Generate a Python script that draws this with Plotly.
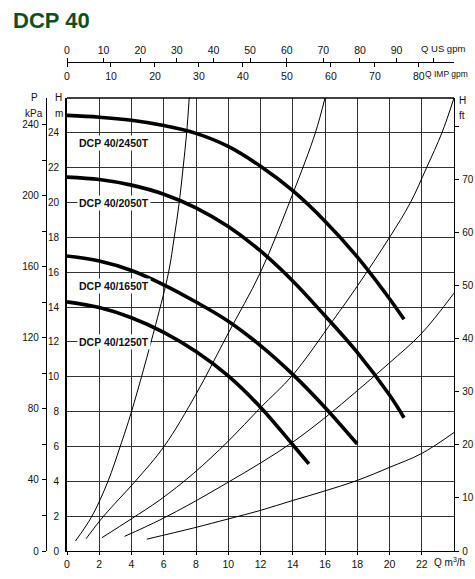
import plotly.graph_objects as go

# ---------------- data ----------------
# Pump curves: Q in m3/h, H in m
Q_2450 = [0, 2, 4, 6, 8, 10, 12, 14, 16, 18, 20, 20.9]
H_2450 = [25.0, 24.9, 24.72, 24.42, 23.97, 23.22, 22.08, 20.68, 18.93, 16.88, 14.48, 13.3]
Q_2050 = [0, 2, 4, 6, 8, 10, 12, 14, 16, 18, 20, 20.9]
H_2050 = [21.46, 21.32, 21.0, 20.48, 19.7, 18.62, 17.22, 15.5, 13.5, 11.4, 8.95, 7.65]
Q_1650 = [0, 2, 4, 6, 8, 10, 12, 14, 16, 18]
H_1650 = [16.93, 16.64, 16.1, 15.28, 14.29, 13.19, 11.79, 10.14, 8.24, 6.14]
Q_1250 = [0, 2, 4, 6, 8, 10, 12, 14, 15]
H_1250 = [14.3, 13.97, 13.39, 12.55, 11.45, 10.05, 8.25, 6.1, 5.0]

pump_names = ["DCP 40/2450T", "DCP 40/2050T", "DCP 40/1650T", "DCP 40/1250T"]
label_H = [23.4, 20.0, 15.2, 12.0]

# System (thin) curves
QA = [0.52, 1.55, 2.54, 3.3, 4.0, 5.5, 6.3, 6.65, 6.96, 7.2, 7.42, 7.58]
HA = [0.57, 2, 4, 6, 8, 13, 16, 18, 20, 22, 24, 26]
QB = [1.18, 2.27, 4.23, 6.02, 8, 10, 12, 14, 15.4, 16]
HB = [0.7, 2, 4, 6, 9, 12.5, 16, 20.5, 24, 26]
QC = [2.16, 4, 5.76, 7.84, 10, 12, 14, 16.5, 18, 20, 21.3, 22.3, 23.25, 24]
HC = [0.76, 1.85, 2.93, 4.45, 6.3, 8.23, 10.1, 13.24, 15.2, 18, 20, 22, 24, 26]
QD = [3.57, 5.76, 7.84, 10, 12, 14, 16, 18, 20, 22, 24]
HD = [0.84, 1.78, 2.8, 3.95, 5.05, 6.25, 7.65, 9.2, 10.8, 12.5, 14.8]
QE = [4.95, 7.84, 10, 12, 14, 16, 18, 20, 22, 24]
HE = [0.68, 1.32, 1.84, 2.33, 2.9, 3.45, 4.05, 4.8, 5.6, 6.8]

# Axis ticks
q_ticks = list(range(0, 23, 2))
h_ticks = list(range(0, 25, 2))
ft_ticks = list(range(0, 81, 10))
ft_text = [str(v) for v in range(0, 71, 10)] + [""]
kpa_ticks = list(range(0, 241, 20))
kpa_text = [str(v) if v % 40 == 0 else "" for v in kpa_ticks]
us_ticks = list(range(0, 101, 10))
us_text = [str(v) for v in range(0, 91, 10)] + [""]
imp_ticks = list(range(0, 81, 10))
imp_text = [str(v) for v in imp_ticks]

# ---------------- figure ----------------
W, Hpx = 475, 579
ML, MR, MT, MB = 46, 21, 40, 28
plot_w = W - ML - MR
plot_h = Hpx - MT - MB
x_start = (67 - ML) / plot_w
y_top = (551 - 98) / plot_h
gpm_pos = (551 - 62) / plot_h

Q_MAX, H_MAX = 24, 26

FONT = "Liberation Sans Narrow, Arial Narrow, Liberation Sans, Arial, sans-serif"

fig = go.Figure()

for q, h in [(QA, HA), (QB, HB), (QC, HC), (QD, HD), (QE, HE)]:
    fig.add_trace(go.Scatter(x=q, y=h, mode="lines",
                             line=dict(color="black", width=1, shape="spline", smoothing=1.0),
                             showlegend=False, hoverinfo="skip"))

for q, h in [(Q_2450, H_2450), (Q_2050, H_2050), (Q_1650, H_1650), (Q_1250, H_1250)]:
    fig.add_trace(go.Scatter(x=q, y=h, mode="lines",
                             line=dict(color="black", width=3.6, shape="spline", smoothing=1.0),
                             showlegend=False, hoverinfo="skip"))

# Invisible traces to activate the extra axes
for xa, ya in [("x", "y2"), ("x", "y3"), ("x2", "y"), ("x3", "y")]:
    fig.add_trace(go.Scatter(x=[0], y=[0], xaxis=xa, yaxis=ya, mode="markers",
                             marker=dict(opacity=0), showlegend=False, hoverinfo="skip"))

tickfont = dict(family=FONT, size=10, color="#111")
grid = "#333333"

fig.update_layout(
    width=W, height=Hpx,
    margin=dict(l=ML, r=MR, t=MT, b=MB, pad=0, autoexpand=False),
    paper_bgcolor="white", plot_bgcolor="white",
    font=dict(family=FONT, color="#111"),
    xaxis=dict(domain=[x_start, 1], range=[0, Q_MAX], tickvals=q_ticks,
               showgrid=True, gridcolor=grid, gridwidth=1.3,
               showline=True, linecolor="black", linewidth=1.3, mirror=False,
               ticks="outside", ticklen=3, tickcolor="black", automargin=False,
               tickfont=dict(family=FONT, size=10.5, color="#111"), zeroline=False),
    yaxis=dict(domain=[0, y_top], range=[0, H_MAX], tickvals=h_ticks,
               showgrid=True, gridcolor=grid, gridwidth=1.3,
               showline=True, linecolor="black", linewidth=2, mirror=False,
               ticks="", tickfont=dict(family=FONT, size=10, color="#111"),
               ticklabelstandoff=4, zeroline=False, automargin=False),
    yaxis2=dict(domain=[0, y_top], overlaying="y", side="right", anchor="x",
                range=[0, H_MAX / 0.3048], tickvals=ft_ticks, ticktext=ft_text,
                ticks="outside", ticklen=4, tickcolor="black", automargin=False,
                showline=True, linecolor="black", linewidth=1.3, showgrid=False,
                zeroline=False, tickfont=tickfont, ticklabelstandoff=1),
    yaxis3=dict(domain=[0, y_top], overlaying="y", side="left", anchor="free", position=0,
                range=[0, H_MAX * 9.80665], tickvals=kpa_ticks, ticktext=kpa_text,
                ticks="outside", ticklen=4, tickcolor="black", automargin=False,
                showline=True, linecolor="black", linewidth=1.3, showgrid=False,
                zeroline=False, tickfont=tickfont, ticklabelstandoff=1),
    xaxis2=dict(domain=[x_start, 1], overlaying="x", side="top", anchor="free",
                position=gpm_pos, range=[0, Q_MAX / 0.22712], automargin=False,
                tickvals=us_ticks, ticktext=us_text, ticks="outside", ticklen=4,
                tickcolor="black", showline=True, linecolor="black", linewidth=1.3,
                showgrid=False, zeroline=False,
                tickfont=dict(family=FONT, size=10.5, color="#111")),
    xaxis3=dict(domain=[x_start, 1], overlaying="x", side="bottom", anchor="free",
                position=gpm_pos, range=[0, Q_MAX / 0.27277], automargin=False,
                tickvals=imp_ticks, ticktext=imp_text, ticks="outside", ticklen=4,
                tickcolor="black", showline=False, showgrid=False, zeroline=False,
                tickfont=dict(family=FONT, size=10.5, color="#111")),
)

# Top border of the plot
fig.add_shape(type="line", xref="x domain", yref="y domain", x0=0, x1=1, y0=1, y1=1,
              line=dict(color="black", width=1.3))

ann = []
for name, hy in zip(pump_names, label_H):
    ann.append(dict(x=0.6, y=hy, xref="x", yref="y", text="<b>%s</b>" % name,
                    showarrow=False, xanchor="left", yanchor="middle",
                    bgcolor="white", borderpad=1,
                    font=dict(family=FONT, size=10.5, color="#111")))


def px_x(px):
    return (px - ML) / plot_w


def px_y(py):
    return (551 - py) / plot_h


def label(text, x, y, size=10, xanchor="center", **kw):
    d = dict(x=px_x(x), y=px_y(y), xref="paper", yref="paper", text=text,
             showarrow=False, xanchor=xanchor, yanchor="middle",
             font=dict(family=FONT, size=size, color="#111"))
    d.update(kw)
    return d


ann += [
    label("P", 34.5, 97),
    label("kPa", 34, 113),
    label("H", 58.5, 97),
    label("m", 58.5, 113),
    label("H", 457, 100, xanchor="left"),
    label("ft", 457, 115, xanchor="left"),
    label("Q m<sup>3</sup>/h", 467, 562, size=10, xanchor="right"),
    label("Q US gpm", 467, 48, size=9.5, xanchor="right"),
    label("Q IMP gpm", 470, 74, size=8.5, xanchor="right"),
    dict(x=px_x(11), y=px_y(20), xref="paper", yref="paper", text="<b>DCP 40</b>",
         showarrow=False, xanchor="left", yanchor="middle",
         font=dict(family=FONT, size=22, color="#0e4f22")),
]
fig.update_layout(annotations=ann)

fig.write_html(
    "out.html",
    config={"displayModeBar": False},
    post_script="document.body.style.margin='0';document.body.style.overflow='hidden';",
)
